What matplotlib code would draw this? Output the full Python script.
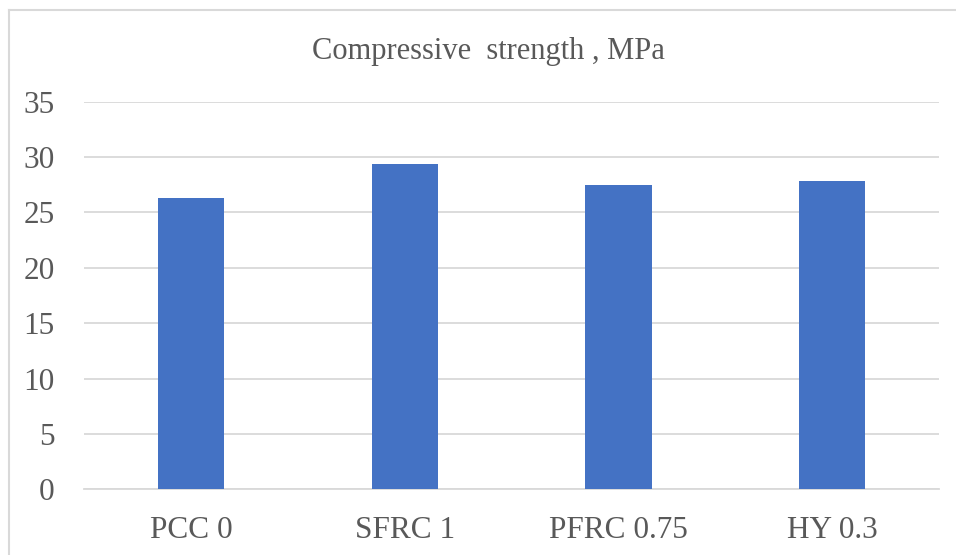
import matplotlib.pyplot as plt
from matplotlib.lines import Line2D

# compressive strength per mix
mixes = ['PCC 0', 'SFRC 1', 'PFRC 0.75', 'HY 0.3']
strength = [26.28, 29.41, 27.46, 27.85]
yticks = [0, 5, 10, 15, 20, 25, 30, 35]

plt.rcParams['font.family'] = ['Liberation Serif', 'DejaVu Serif']
text_color = '#595959'

fig = plt.figure(figsize=(9.56, 5.55), dpi=100)
ax = fig.add_axes([0.0879, 0.1184, 0.8943, 0.6984])

x = range(len(mixes))
ax.bar(x, strength, width=0.31, color='#4472C4', zorder=3)

ax.set_xlim(-0.5, len(mixes) - 0.5)
ax.set_ylim(0, 35)
ax.set_yticks(yticks)
ax.set_xticks(list(x))
ax.set_xticklabels(mixes)
ax.yaxis.grid(True, color='#d9d9d9', linewidth=1.3, zorder=0)
ax.tick_params(axis='both', length=0, labelsize=22.5, colors=text_color)
ax.tick_params(axis='y', pad=21)
ax.tick_params(axis='x', pad=19)
for side in ['top', 'right', 'left']:
    ax.spines[side].set_visible(False)
ax.spines['bottom'].set_color('#d9d9d9')
ax.spines['bottom'].set_linewidth(1.3)

fig.text(0.5105, 0.907, 'Compressive  strength , MPa', ha='center', va='center',
         fontsize=22, color=text_color)

# chart frame (left and top edges)
fig.add_artist(Line2D([8.5 / 956, 8.5 / 956], [0, 1 - 9.5 / 555], transform=fig.transFigure,
                      color='#d9d9d9', linewidth=1.5))
fig.add_artist(Line2D([8.5 / 956, 1], [1 - 9.5 / 555, 1 - 9.5 / 555], transform=fig.transFigure,
                      color='#d9d9d9', linewidth=1.5))

fig.savefig('out.png', dpi=100)
